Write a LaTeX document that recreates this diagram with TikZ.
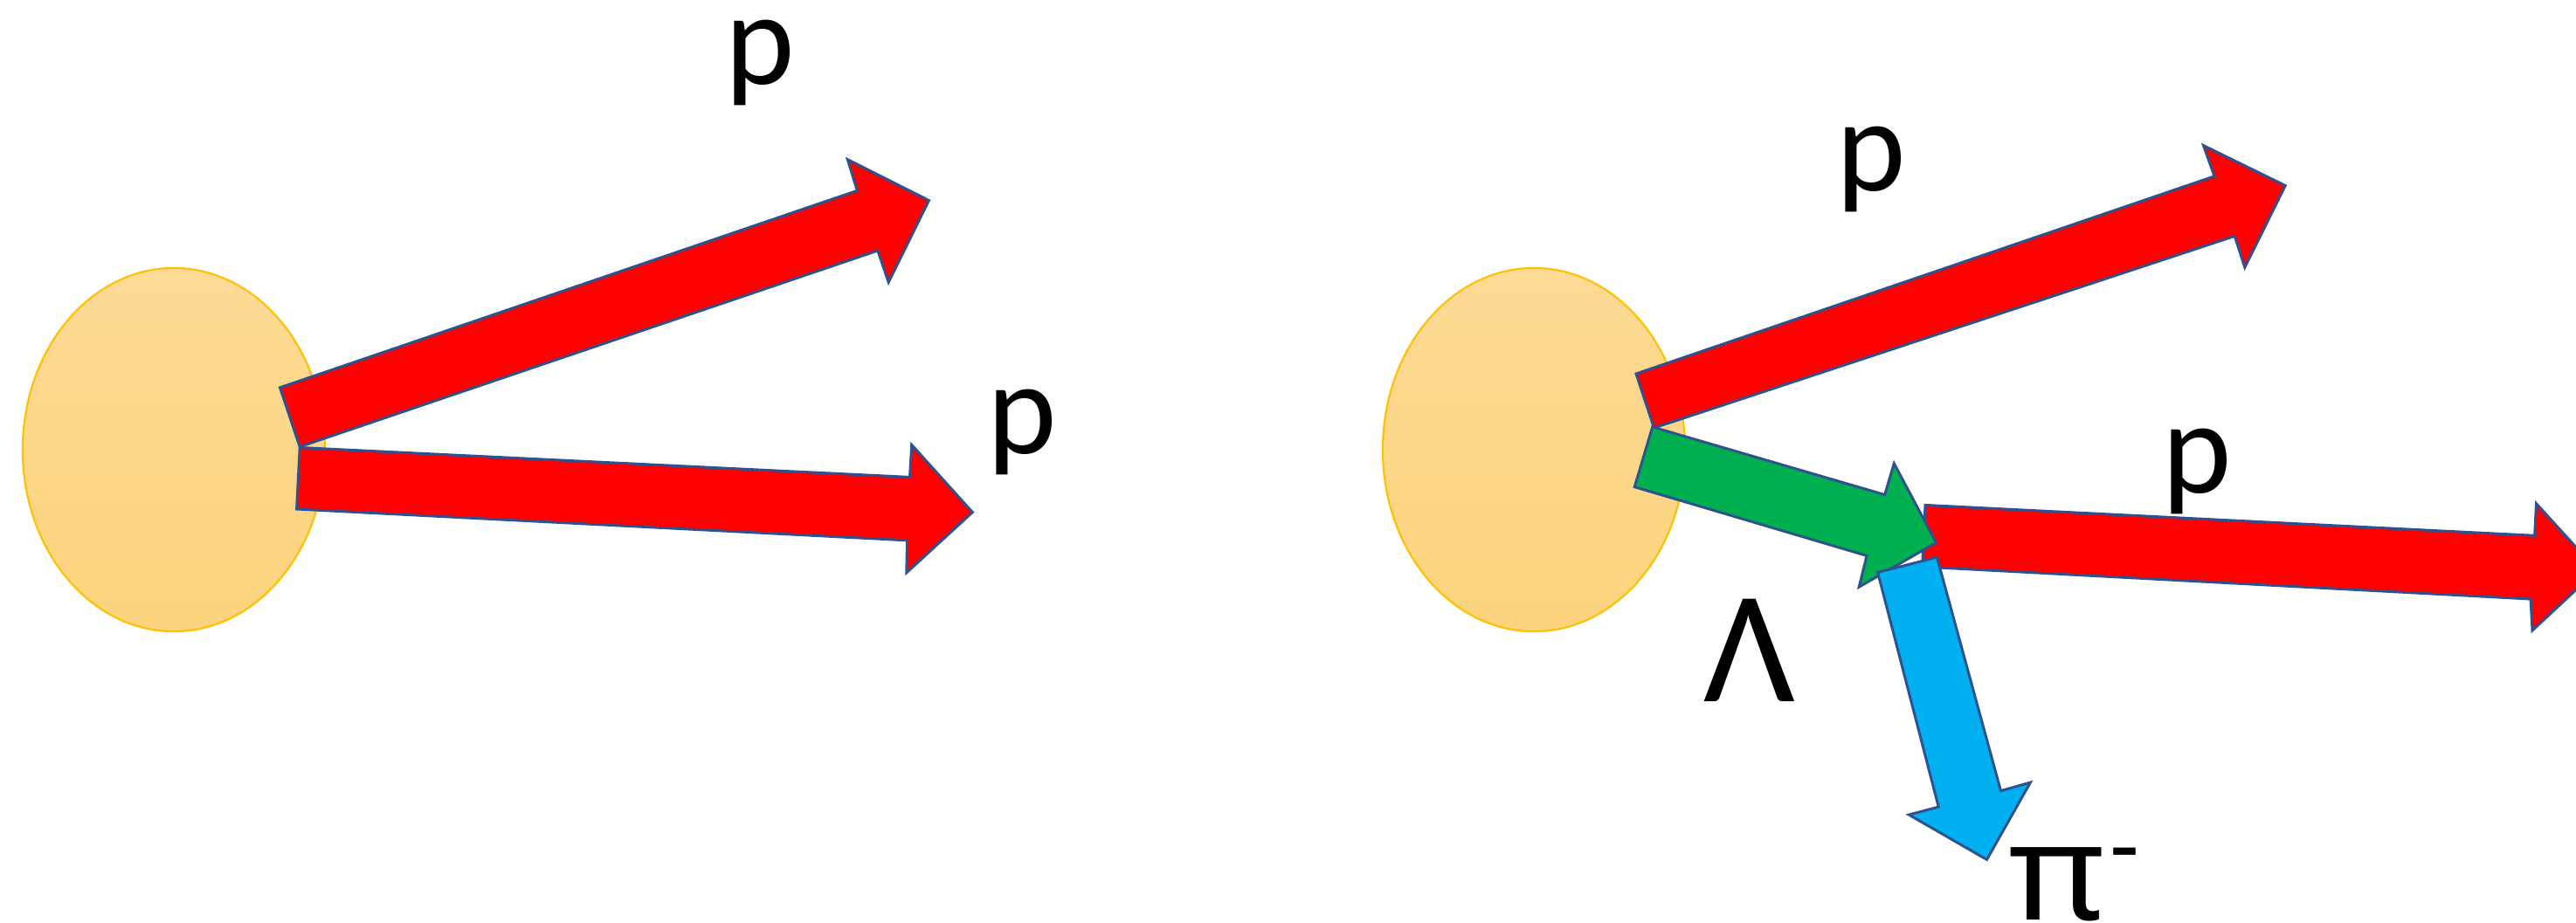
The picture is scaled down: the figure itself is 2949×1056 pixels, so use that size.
\documentclass[tikz,border=0pt]{standalone}
\usepackage{fontspec}
\setmainfont{Carlito}
\newfontfamily\greekfont{Noto Sans}
\usetikzlibrary{shapes.geometric}
\definecolor{edgeblue}{RGB}{47,82,143}
\definecolor{arrred}{RGB}{255,0,0}
\definecolor{arrgreen}{RGB}{0,176,80}
\definecolor{arrcyan}{RGB}{0,176,240}
\definecolor{blobtop}{RGB}{253,219,150}
\definecolor{blobbot}{RGB}{253,211,124}
\definecolor{blobline}{RGB}{255,192,0}
\tikzset{
  blob/.style={ellipse, minimum width=3.46cm, minimum height=4.16cm, inner sep=0pt,
    top color=blobtop, bottom color=blobbot, draw=blobline, line width=0.6pt},
  blockarrow/.style={draw=edgeblue, line width=0.85pt, line join=miter},
  lbl/.style={inner sep=0pt, font=\fontsize{43}{50}\selectfont},
}
\begin{document}
\begin{tikzpicture}[x=0.01cm,y=-0.01cm]
\useasboundingbox (0,0) rectangle (2949,1056);
\clip (0,0) rectangle (2949,1056);
% blobs
\node[blob] (blobL) at (199,515) {};
\node[blob] (blobR) at (1756,515) {};
% left arrows
\filldraw[blockarrow, fill=arrred] (320.5,443.8) -- (981.3,218.3) -- (970.3,182.6) -- (1063.4,229.5) -- (1017.2,323.2) -- (1004.8,287) -- (343.2,511.6) -- cycle;
\filldraw[blockarrow, fill=arrred] (343.2,512.5) -- (1041.5,546.4) -- (1043.7,509.4) -- (1113.3,586.6) -- (1037.8,655.8) -- (1038.5,618.8) -- (339.6,583) -- cycle;
% right arrows
\filldraw[blockarrow, fill=arrred] (1873,428) -- (2535,201.8) -- (2522.5,166.6) -- (2616.2,212.5) -- (2569.8,306.2) -- (2558.2,270.4) -- (1893.5,490) -- cycle;
\filldraw[blockarrow, fill=arrred] (2204,578.4) -- (2901.6,613.3) -- (2903.5,576.7) -- (2973,653) -- (2899,722) -- (2897,686) -- (2200.6,649) -- cycle;
\filldraw[blockarrow, fill=arrgreen] (1891.7,488.9) -- (2157.6,566.5) -- (2168.3,530.7) -- (2216.5,621.4) -- (2128.2,672.2) -- (2137,636.4) -- (1871.2,557.6) -- cycle;
\filldraw[blockarrow, fill=arrcyan] (2149.6,655.5) -- (2217.4,638.1) -- (2290.5,905.6) -- (2324.4,896) -- (2274.5,984.4) -- (2185.3,933) -- (2219.2,924) -- cycle;
% labels
\node[lbl] (pA) at (870.5,71.5) {p};
\node[lbl] (pB) at (1170,495) {p};
\node[lbl] (pC) at (2142,194) {p};
\node[lbl] (pD) at (2515,540) {p};
\node[inner sep=0pt, font=\fontsize{52}{60}\selectfont] (lam) at (2002.5,744.5) {Λ};
\node[inner sep=0pt, anchor=base west] (pim) at (2299,1053)
  {\scalebox{1.09}[1]{\greekfont\fontsize{44}{50}\selectfont π}\hspace{1.5pt}\raisebox{14pt}{\greekfont\fontsize{30}{30}\selectfont -}};
\end{tikzpicture}
\end{document}
